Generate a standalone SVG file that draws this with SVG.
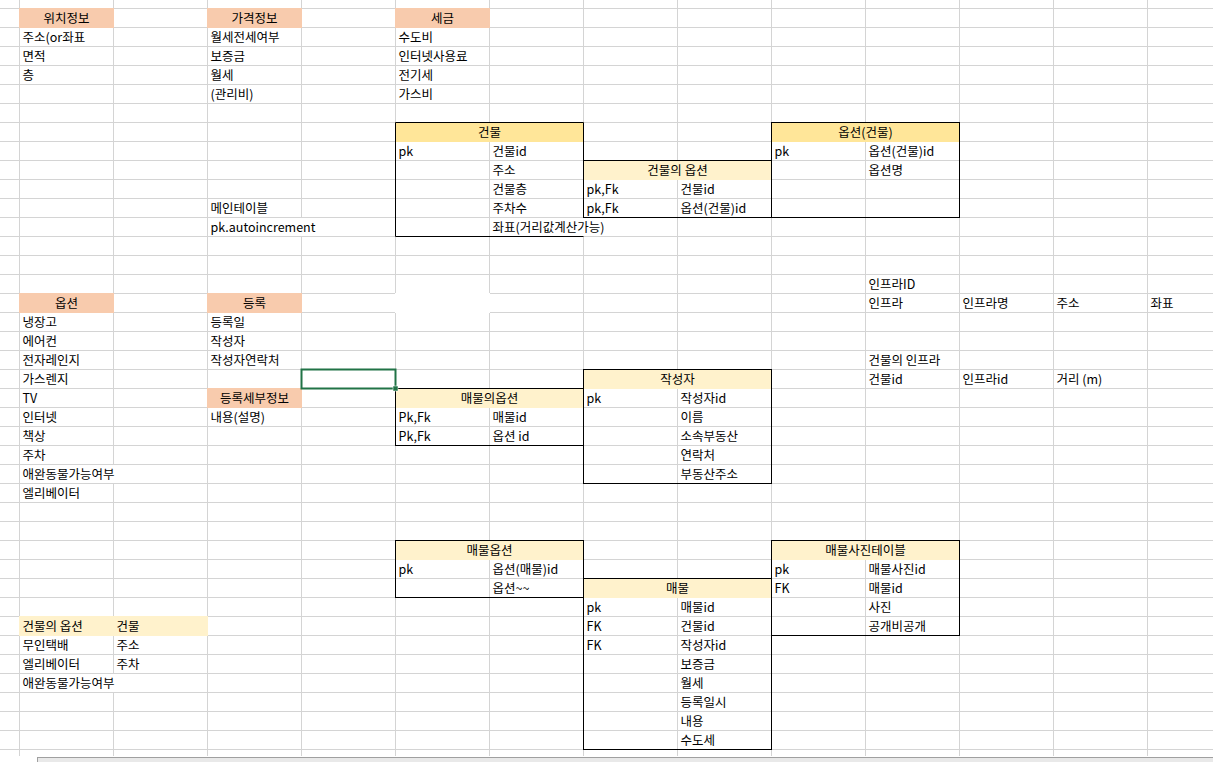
<svg xmlns="http://www.w3.org/2000/svg" width="1213" height="762" viewBox="0 0 1213 762">
<style>
.grid{stroke:#D4D4D4;stroke-width:1;fill:none}
.t{font-family:"Noto Sans CJK KR","Noto Sans",sans-serif;font-size:12.5px;fill:#000}
.c{text-anchor:middle}
.peach{fill:#F8CBAD}
.yel{fill:#FFE699}
.lt{fill:#FFF2CC}
.wh{fill:#FFFFFF}
.box{fill:none;stroke:#000;stroke-width:1}
</style>
<rect x="0" y="0" width="1213" height="762" fill="#FFFFFF"/>
<g id="grid">
<path class="grid" d="M19.5 0V756M113.5 0V756M207.5 0V756M301.5 0V756M395.5 0V756M489.5 0V756M583.5 0V756M677.5 0V756M771.5 0V756M865.5 0V756M959.5 0V756M1053.5 0V756M1147.5 0V756
M0 8.5H1213M0 27.5H1213M0 46.5H1213M0 65.5H1213M0 84.5H1213M0 103.5H1213M0 122.5H1213M0 141.5H1213M0 160.5H1213M0 179.5H1213M0 198.5H1213M0 217.5H1213M0 236.5H1213M0 255.5H1213M0 274.5H1213M0 293.5H1213M0 312.5H1213M0 331.5H1213M0 350.5H1213M0 369.5H1213M0 388.5H1213M0 407.5H1213M0 426.5H1213M0 445.5H1213M0 464.5H1213M0 483.5H1213M0 502.5H1213M0 521.5H1213M0 540.5H1213M0 559.5H1213M0 578.5H1213M0 597.5H1213M0 616.5H1213M0 635.5H1213M0 654.5H1213M0 673.5H1213M0 692.5H1213M0 711.5H1213M0 730.5H1213M0 749.5H1213"/>
<rect class="wh" x="301" y="218" width="1" height="18"/>
<rect class="wh" x="583" y="218" width="1" height="18"/>
<rect class="wh" x="113" y="465" width="1" height="18"/>
<rect class="wh" x="113" y="674" width="1" height="18"/>
<rect class="wh" x="395" y="293" width="95" height="20"/>
<rect x="37.5" y="757.5" width="1176" height="6" fill="#E9E9E9" stroke="#A0A0A0"/>
</g>

<g transform="translate(0,-0.5)">
<g id="location-info">
<rect class="peach" x="19" y="8.5" width="95" height="20"/>
<text class="t c" x="66.5" y="23.5">위치정보</text>
<text class="t" x="22.5" y="42.5">주소(or좌표</text>
<text class="t" x="22.5" y="61.5">면적</text>
<text class="t" x="22.5" y="80.5">층</text>
</g>

<g id="price-info">
<rect class="peach" x="207" y="8.5" width="95" height="20"/>
<text class="t c" x="254.5" y="23.5">가격정보</text>
<text class="t" x="210.5" y="42.5">월세전세여부</text>
<text class="t" x="210.5" y="61.5">보증금</text>
<text class="t" x="210.5" y="80.5">월세</text>
<text class="t" x="210.5" y="99.5">(관리비)</text>
</g>

<g id="tax">
<rect class="peach" x="395" y="8.5" width="95" height="20"/>
<text class="t c" x="442.5" y="23.5">세금</text>
<text class="t" x="398.5" y="42.5">수도비</text>
<text class="t" x="398.5" y="61.5">인터넷사용료</text>
<text class="t" x="398.5" y="80.5">전기세</text>
<text class="t" x="398.5" y="99.5">가스비</text>
</g>

<g id="main-table-note">
<text class="t" x="210.5" y="213.5">메인테이블</text>
<text class="t" x="210.5" y="232.5">pk.autoincrement</text>
</g>

<g id="building">
<rect class="yel" x="395" y="122.5" width="189" height="20"/>
<path class="box" d="M583.5 218V123H395.5V237H583.5"/>
<text class="t c" x="489.5" y="137.5">건물</text>
<text class="t" x="398.5" y="156.5">pk</text>
<text class="t" x="492.5" y="156.5">건물id</text>
<text class="t" x="492.5" y="175.5">주소</text>
<text class="t" x="492.5" y="194.5">건물층</text>
<text class="t" x="492.5" y="213.5">주차수</text>
<text class="t" x="492.5" y="232.5">좌표(거리값계산가능)</text>
</g>

<g id="building-option-link">
<rect class="lt" x="583" y="160.5" width="189" height="20"/>
<rect class="box" x="583.5" y="161" width="188" height="57"/>
<text class="t c" x="677.5" y="175.5">건물의 옵션</text>
<text class="t" x="586.5" y="194.5">pk,Fk</text>
<text class="t" x="680.5" y="194.5">건물id</text>
<text class="t" x="586.5" y="213.5">pk,Fk</text>
<text class="t" x="680.5" y="213.5">옵션(건물)id</text>
</g>

<g id="building-option">
<rect class="yel" x="771" y="122.5" width="189" height="20"/>
<rect class="box" x="771.5" y="123" width="188" height="95"/>
<text class="t c" x="865.5" y="137.5">옵션(건물)</text>
<text class="t" x="774.5" y="156.5">pk</text>
<text class="t" x="868.5" y="156.5">옵션(건물)id</text>
<text class="t" x="868.5" y="175.5">옵션명</text>
</g>

<g id="infra">
<text class="t" x="868.5" y="289.5">인프라ID</text>
<text class="t" x="868.5" y="308.5">인프라</text>
<text class="t" x="962.5" y="308.5">인프라명</text>
<text class="t" x="1056.5" y="308.5">주소</text>
<text class="t" x="1150.5" y="308.5">좌표</text>
</g>

<g id="building-infra">
<text class="t" x="868.5" y="365.5">건물의 인프라</text>
<text class="t" x="868.5" y="384.5">건물id</text>
<text class="t" x="962.5" y="384.5">인프라id</text>
<text class="t" x="1056.5" y="384.5">거리 (m)</text>
</g>

<g id="options">
<rect class="peach" x="19" y="293.5" width="95" height="20"/>
<text class="t c" x="66.5" y="308.5">옵션</text>
<text class="t" x="22.5" y="327.5">냉장고</text>
<text class="t" x="22.5" y="346.5">에어컨</text>
<text class="t" x="22.5" y="365.5">전자레인지</text>
<text class="t" x="22.5" y="384.5">가스렌지</text>
<text class="t" x="22.5" y="403.5">TV</text>
<text class="t" x="22.5" y="422.5">인터넷</text>
<text class="t" x="22.5" y="441.5">책상</text>
<text class="t" x="22.5" y="460.5">주차</text>
<text class="t" x="22.5" y="479.5">애완동물가능여부</text>
<text class="t" x="22.5" y="498.5">엘리베이터</text>
</g>

<g id="registration">
<rect class="peach" x="207" y="293.5" width="95" height="20"/>
<text class="t c" x="254.5" y="308.5">등록</text>
<text class="t" x="210.5" y="327.5">등록일</text>
<text class="t" x="210.5" y="346.5">작성자</text>
<text class="t" x="210.5" y="365.5">작성자연락처</text>
</g>

<g id="registration-detail">
<rect class="peach" x="207" y="388.5" width="95" height="20"/>
<text class="t c" x="254.5" y="403.5">등록세부정보</text>
<text class="t" x="210.5" y="422.5">내용(설명)</text>
</g>

<g id="listing-option-link">
<rect class="lt" x="395" y="388.5" width="189" height="20"/>
<rect class="box" x="395.5" y="389" width="188" height="57"/>
<text class="t c" x="489.5" y="403.5">매물의옵션</text>
<text class="t" x="398.5" y="422.5">Pk,Fk</text>
<text class="t" x="492.5" y="422.5">매물id</text>
<text class="t" x="398.5" y="441.5">Pk,Fk</text>
<text class="t" x="492.5" y="441.5">옵션 id</text>
</g>

<g id="author">
<rect class="lt" x="583" y="369.5" width="189" height="20"/>
<rect class="box" x="583.5" y="370" width="188" height="114"/>
<text class="t c" x="677.5" y="384.5">작성자</text>
<text class="t" x="586.5" y="403.5">pk</text>
<text class="t" x="680.5" y="403.5">작성자id</text>
<text class="t" x="680.5" y="422.5">이름</text>
<text class="t" x="680.5" y="441.5">소속부동산</text>
<text class="t" x="680.5" y="460.5">연락처</text>
<text class="t" x="680.5" y="479.5">부동산주소</text>
</g>

<g id="listing-option">
<rect class="lt" x="395" y="540.5" width="189" height="20"/>
<rect class="box" x="395.5" y="541" width="188" height="57"/>
<text class="t c" x="489.5" y="555.5">매물옵션</text>
<text class="t" x="398.5" y="574.5">pk</text>
<text class="t" x="492.5" y="574.5">옵션(매물)id</text>
<text class="t" x="492.5" y="593.5">옵션~~</text>
</g>

<g id="listing-photo">
<rect class="lt" x="771" y="540.5" width="189" height="20"/>
<rect class="box" x="771.5" y="541" width="188" height="95"/>
<text class="t c" x="865.5" y="555.5">매물사진테이블</text>
<text class="t" x="774.5" y="574.5">pk</text>
<text class="t" x="868.5" y="574.5">매물사진id</text>
<text class="t" x="774.5" y="593.5">FK</text>
<text class="t" x="868.5" y="593.5">매물id</text>
<text class="t" x="868.5" y="612.5">사진</text>
<text class="t" x="868.5" y="631.5">공개비공개</text>
</g>

<g id="listing">
<rect class="lt" x="583" y="578.5" width="189" height="20"/>
<rect class="box" x="583.5" y="579" width="188" height="171"/>
<text class="t c" x="677.5" y="593.5">매물</text>
<text class="t" x="586.5" y="612.5">pk</text>
<text class="t" x="680.5" y="612.5">매물id</text>
<text class="t" x="586.5" y="631.5">FK</text>
<text class="t" x="680.5" y="631.5">건물id</text>
<text class="t" x="586.5" y="650.5">FK</text>
<text class="t" x="680.5" y="650.5">작성자id</text>
<text class="t" x="680.5" y="669.5">보증금</text>
<text class="t" x="680.5" y="688.5">월세</text>
<text class="t" x="680.5" y="707.5">등록일시</text>
<text class="t" x="680.5" y="726.5">내용</text>
<text class="t" x="680.5" y="745.5">수도세</text>
</g>

<g id="building-option-list">
<rect class="lt" x="19" y="616.5" width="189" height="20"/>
<text class="t" x="22.5" y="631.5">건물의 옵션</text>
<text class="t" x="116.5" y="631.5">건물</text>
<text class="t" x="22.5" y="650.5">무인택배</text>
<text class="t" x="116.5" y="650.5">주소</text>
<text class="t" x="22.5" y="669.5">엘리베이터</text>
<text class="t" x="116.5" y="669.5">주차</text>
<text class="t" x="22.5" y="688.5">애완동물가능여부</text>
</g>
</g>

<g id="selection">
<rect x="301.5" y="369.5" width="94" height="19" fill="none" stroke="#217346" stroke-width="2"/>
<rect x="393" y="386" width="5" height="5" fill="#217346" stroke="#FFFFFF" stroke-width="0.5"/>
</g>

<g id="connectors"></g>
</svg>
